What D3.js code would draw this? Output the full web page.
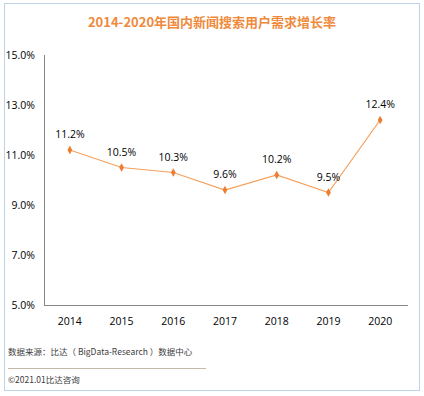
<!DOCTYPE html>
<html lang="zh">
<head>
<meta charset="UTF-8">
<title>2014-2020年国内新闻搜索用户需求增长率</title>
<script src="https://d3js.org/d3.v7.min.js"></script>
<style>
    body { margin: 0; background: #fff; font-family: "Open Sans", "Noto Sans CJK SC", sans-serif; }
    #chart { position: relative; width: 424px; height: 396px; }
    .axis-text { font-size: 10.5px; fill: #000; }
</style>
</head>
<body>
<div id="chart"></div>
<script>
    const years = ["2014", "2015", "2016", "2017", "2018", "2019", "2020"];
    const growth = [11.2, 10.5, 10.3, 9.6, 10.2, 9.5, 12.4];
    const yTicks = [5, 7, 9, 11, 13, 15];

    const W = 424, H = 396;
    const plot = {left: 44, right: 408, top: 55, bottom: 305};

    const svg = d3.select("#chart").append("svg")
        .attr("width", W).attr("height", H);

    // frame
    svg.append("rect")
        .attr("x", 4.5).attr("y", 3.5)
        .attr("width", 415).attr("height", 387)
        .attr("fill", "#fff").attr("stroke", "#bcd3ea");

    svg.append("text")
        .attr("x", 212).attr("y", 27)
        .attr("text-anchor", "middle")
        .attr("font-family", "'Noto Sans CJK SC', sans-serif")
        .attr("font-size", 13).attr("font-weight", "bold")
        .attr("fill", "#ef8a3c")
        .text("2014-2020年国内新闻搜索用户需求增长率");

    const x = d3.scaleBand().domain(years).range([plot.left, plot.right - 2]);
    const y = d3.scaleLinear().domain([5, 15]).range([plot.bottom, plot.top]);

    // axes
    svg.append("line")
        .attr("x1", plot.left + 0.5).attr("x2", plot.left + 0.5)
        .attr("y1", plot.top).attr("y2", plot.bottom)
        .attr("stroke", "#868686");
    svg.append("line")
        .attr("x1", plot.left).attr("x2", plot.right)
        .attr("y1", plot.bottom + 0.5).attr("y2", plot.bottom + 0.5)
        .attr("stroke", "#868686");

    svg.selectAll(".ytick").data(yTicks).enter().append("text")
        .attr("class", "axis-text")
        .attr("x", 35).attr("y", d => y(d) + 4)
        .attr("text-anchor", "end")
        .text(d => d.toFixed(1) + "%");

    svg.selectAll(".xtick").data(years).enter().append("text")
        .attr("class", "axis-text")
        .attr("x", d => x(d) + x.bandwidth() / 2)
        .attr("y", 325)
        .attr("text-anchor", "middle")
        .text(d => d);

    const pts = years.map((yr, i) => ({yr, v: growth[i]}));
    const cx = d => x(d.yr) + x.bandwidth() / 2;

    svg.append("path")
        .datum(pts)
        .attr("fill", "none")
        .attr("stroke", "#f5a05c")
        .attr("stroke-width", 1.2)
        .attr("d", d3.line().x(cx).y(d => y(d.v)));

    svg.selectAll(".pt").data(pts).enter().append("path")
        .attr("transform", d => `translate(${cx(d)},${y(d.v)})`)
        .attr("d", d3.symbol(d3.symbolDiamond, 20))
        .attr("fill", "#ed7d31");

    svg.selectAll(".lbl").data(pts).enter().append("text")
        .attr("class", "axis-text")
        .attr("x", cx)
        .attr("y", d => y(d.v) - 12)
        .attr("text-anchor", "middle")
        .text(d => d.v.toFixed(1) + "%");

    // footer
    svg.append("text")
        .attr("x", 8).attr("y", 355)
        .attr("font-family", "'Noto Sans CJK SC', sans-serif")
        .attr("font-size", 8.5).attr("fill", "#404040")
        .text("数据来源：比达（ BigData-Research ）数据中心");
    svg.append("line")
        .attr("x1", 8).attr("x2", 206)
        .attr("y1", 368.5).attr("y2", 368.5)
        .attr("stroke", "#a08a70").attr("stroke-width", 0.6);
    svg.append("text")
        .attr("x", 8).attr("y", 383)
        .attr("font-family", "'Noto Sans CJK SC', sans-serif")
        .attr("font-size", 8.5).attr("fill", "#404040")
        .text("©2021.01比达咨询");
</script>
</body>
</html>
